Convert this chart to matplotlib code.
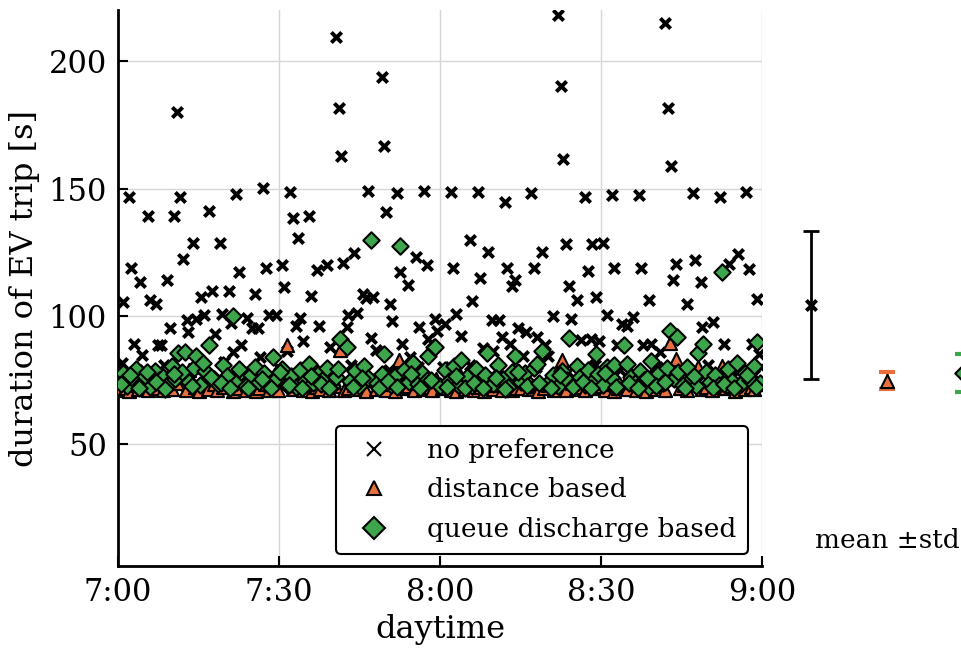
import numpy as np
import matplotlib.pyplot as plt
from matplotlib.lines import Line2D

plt.rcParams['font.family'] = 'DejaVu Serif'

# ---------------- data (minutes after 7:00, trip duration in s) ----------------
# no preference
none_t = [10.9, 40.6, 49.1, 41.1, 49.6, 41.6, 2.0, 5.5, 10.5, 11.6,
          17.0, 22.0, 27.0, 32.1, 32.6, 35.6, 46.5, 52.0, 49.9, 57.1,
          82.0, 82.6, 83.0, 102.0, 102.5, 103.0, 62.0, 67.0, 72.1, 77.0,
          87.0, 92.0, 97.0, 107.1, 112.1, 117.0, 14.0, 19.0, 2.5, 12.1,
          4.1, 9.1, 6.0, 7.1, 1.0, 15.5, 17.5, 20.6, 22.5, 27.5,
          30.5, 31.0, 33.6, 25.5, 36.0, 37.0, 39.0, 42.0, 44.0, 52.5,
          54.1, 55.5, 57.5, 45.7, 47.6, 46.3, 50.6, 12.8, 14.5, 16.1,
          19.4, 21.1, 24.0, 24.9, 26.0, 28.1, 29.4, 33.1, 34.0, 37.5,
          42.6, 42.8, 44.5, 51.1, 56.1, 59.1, 9.6, 13.0, 18.1, 3.0,
          4.5, 7.5, 8.1, 23.0, 21.5, 34.5, 39.5, 47.1, 48.1, 53.0,
          57.8, 31.4, 0.8, 26.5, 54.4, 65.6, 69.0, 62.5, 67.5, 72.5,
          74.0, 73.5, 77.5, 79.1, 83.5, 88.4, 90.4, 87.5, 84.0, 85.5,
          89.0, 92.5, 97.5, 99.0, 103.5, 104.0, 107.5, 108.6, 106.0, 113.9,
          115.6, 117.6, 119.0, 66.0, 60.9, 63.0, 69.6, 71.0, 81.0, 84.5,
          91.1, 94.0, 94.8, 96.0, 108.9, 110.9, 64.0, 59.4, 74.6, 76.1,
          71.5, 73.0, 78.0, 79.6, 86.2, 88.1, 89.7, 92.9, 97.9, 99.4,
          101.0, 113.0, 118.1, 119.5, 68.1, 69.9, 75.5, 80.2, 60.6, 1.5,
          3.5, 5.8, 8.5, 10.2, 12.5, 14.8, 16.5, 19.8, 22.2, 24.5,
          27.8, 29.9, 32.5, 35.2, 37.9, 40.2, 43.5, 45.2, 48.9, 50.5,
          53.5, 55.9, 58.5, 61.5, 63.9, 65.5, 67.9, 70.5, 72.9, 75.9,
          77.9, 80.9, 83.9, 86.5, 88.9, 90.9, 93.5, 95.9, 98.5, 100.5,
          102.5, 105.2, 107.9, 109.9, 111.5, 114.5, 116.5, 118.5, 119.8]
none_d = [180.0, 209.4, 193.8, 181.6, 166.7, 162.6, 146.7, 139.2, 139.2, 146.8,
          141.2, 147.7, 150.3, 148.8, 138.6, 139.2, 149.0, 148.1, 140.8, 149.0,
          217.9, 190.1, 161.4, 214.8, 181.6, 158.8, 148.6, 148.6, 144.7, 148.1,
          146.8, 147.6, 147.3, 148.1, 146.8, 148.8, 128.8, 128.8, 118.7, 122.3,
          113.5, 114.2, 106.5, 104.9, 105.7, 107.5, 109.9, 109.9, 117.4, 118.7,
          120.1, 111.4, 130.7, 108.8, 107.8, 118.0, 120.1, 121.0, 124.9, 117.1,
          112.2, 123.2, 120.1, 108.8, 107.5, 107.0, 104.7, 98.4, 98.8, 100.4,
          100.7, 97.1, 99.2, 95.3, 95.3, 100.4, 100.4, 96.2, 99.2, 96.2,
          95.8, 100.5, 101.4, 97.9, 95.8, 98.8, 95.3, 93.6, 92.9, 89.0,
          84.8, 88.6, 88.6, 88.6, 85.8, 90.3, 88.0, 91.3, 86.7, 89.0,
          91.2, 86.4, 81.8, 83.8, 83.8, 129.8, 125.0, 118.7, 115.1, 119.0,
          114.0, 111.8, 118.7, 125.3, 128.4, 128.1, 128.5, 117.7, 111.8, 106.2,
          107.5, 118.7, 118.7, 106.2, 114.0, 120.6, 121.9, 113.5, 104.9, 120.3,
          124.2, 118.4, 106.6, 106.0, 96.8, 100.8, 98.5, 98.5, 100.0, 98.8,
          100.4, 96.8, 96.2, 99.6, 95.6, 97.7, 92.3, 94.2, 95.3, 93.6,
          91.7, 89.2, 91.7, 88.6, 90.7, 91.0, 90.3, 88.7, 88.7, 89.0,
          85.8, 89.0, 89.0, 85.1, 87.5, 86.4, 84.4, 84.2, 80.1, 76.0,
          79.0, 74.0, 81.0, 77.0, 73.0, 79.0, 75.0, 82.0, 76.0, 78.0,
          74.0, 80.0, 76.0, 73.0, 79.0, 75.0, 81.0, 77.0, 74.0, 79.0,
          76.0, 80.0, 74.0, 78.0, 75.0, 81.0, 76.0, 79.0, 74.0, 77.0,
          80.0, 75.0, 78.0, 74.0, 81.0, 76.0, 79.0, 74.0, 77.0, 80.0,
          75.0, 78.0, 74.0, 81.0, 76.0, 79.0, 74.0, 77.0, 80.0]

# distance based
dist_t = [0.4, 1.3, 2.0, 3.1, 3.8, 4.9, 5.5, 6.6, 7.3, 8.4,
          9.0, 10.1, 10.9, 11.6, 12.7, 13.3, 14.4, 15.1, 16.2, 16.8,
          17.9, 18.5, 19.6, 20.3, 21.4, 22.0, 23.1, 23.9, 24.6, 25.7,
          26.3, 27.4, 28.1, 29.2, 29.8, 30.9, 31.5, 32.6, 33.3, 34.4,
          35.0, 36.1, 36.9, 37.6, 38.7, 39.3, 40.4, 41.4, 42.2, 42.8,
          43.9, 44.5, 45.6, 46.3, 47.4, 48.0, 49.1, 49.9, 50.6, 51.7,
          52.4, 53.4, 54.1, 55.2, 55.8, 56.9, 57.5, 58.6, 59.3, 60.4,
          61.0, 62.1, 62.9, 63.7, 64.7, 65.3, 66.4, 67.1, 68.2, 68.8,
          69.9, 70.5, 71.6, 72.3, 73.4, 74.0, 75.1, 75.9, 76.6, 77.7,
          78.3, 79.4, 80.1, 81.2, 81.8, 82.8, 83.5, 84.6, 85.3, 86.4,
          87.0, 88.1, 88.9, 89.6, 90.7, 91.3, 92.4, 93.1, 94.2, 94.8,
          95.9, 96.5, 97.6, 98.3, 99.4, 100.0, 101.1, 101.9, 102.9, 104.0,
          104.7, 105.4, 106.1, 107.2, 108.0, 108.9, 109.5, 110.6, 111.4, 112.5,
          113.2, 114.3, 115.0, 116.1, 116.8, 117.9, 118.6, 119.6]
dist_d = [71.2, 72.0, 70.8, 73.1, 71.5, 72.4, 71.0, 74.2, 71.8, 70.9,
          72.6, 71.3, 73.8, 76.5, 71.1, 78.9, 72.2, 70.7, 80.2, 71.6,
          73.5, 71.0, 72.3, 75.8, 70.8, 71.9, 74.6, 71.2, 72.8, 70.6,
          71.7, 73.2, 71.1, 72.5, 70.9, 75.1, 88.7, 71.4, 72.9, 71.0,
          73.6, 70.8, 72.1, 71.5, 74.0, 71.2, 72.7, 86.7, 70.9, 71.8,
          73.0, 71.3, 72.4, 70.7, 74.8, 71.6, 72.0, 71.1, 73.3, 70.8,
          82.7, 71.9, 72.6, 71.0, 73.9, 71.4, 72.2, 70.9, 75.5, 71.7,
          72.8, 71.2, 70.8, 77.0, 71.6, 73.4, 71.0, 72.3, 70.7, 74.1,
          71.5, 72.9, 71.1, 73.7, 70.9, 72.0, 71.8, 75.2, 71.3, 72.5,
          70.8, 71.9, 73.1, 71.2, 72.4, 82.7, 71.0, 73.8, 71.5, 72.1,
          70.9, 74.5, 71.7, 72.6, 71.1, 73.2, 70.8, 71.9, 72.8, 71.3,
          74.0, 71.0, 72.2, 70.7, 73.5, 71.6, 72.4, 71.2, 89.6, 83.1,
          71.8, 72.9, 70.9, 73.6, 79.9, 71.4, 72.3, 71.0, 74.2, 80.5,
          71.7, 72.5, 70.8, 73.0, 71.3, 72.1, 71.6, 73.4]

# queue discharge based
queue_t = [0.2, 0.9, 1.7, 2.6, 3.4, 4.2, 5.1, 5.9, 6.8, 7.6,
           8.3, 9.2, 10.0, 10.7, 11.2, 12.0, 12.5, 13.3, 14.1, 14.5,
           15.3, 16.2, 17.0, 17.9, 18.7, 19.5, 20.4, 21.5, 22.2, 23.0,
           23.8, 24.7, 25.5, 26.3, 27.2, 28.0, 28.9, 29.7, 30.5, 31.4,
           32.2, 33.1, 33.9, 34.8, 35.6, 36.4, 37.3, 38.1, 39.0, 39.8,
           40.6, 41.4, 42.6, 43.3, 44.1, 45.0, 45.8, 46.6, 47.1, 48.3,
           49.2, 49.6, 50.8, 51.7, 52.5, 53.3, 54.2, 55.0, 55.9, 56.7,
           57.5, 57.8, 58.8, 59.1, 60.0, 60.9, 61.7, 62.6, 63.4, 64.0,
           65.1, 65.9, 66.7, 67.6, 68.4, 68.8, 69.8, 70.9, 71.8, 72.6,
           73.4, 74.0, 75.1, 75.9, 76.8, 77.6, 78.0, 79.1, 80.2, 81.0,
           81.9, 82.7, 83.6, 84.1, 85.2, 85.5, 86.1, 87.0, 87.6, 88.6,
           89.0, 89.5, 90.3, 91.1, 92.0, 92.5, 93.4, 94.2, 94.8, 95.6,
           96.4, 97.3, 98.1, 99.0, 99.4, 100.6, 101.5, 102.3, 102.9, 103.6,
           104.1, 104.4, 105.3, 106.1, 106.9, 107.7, 108.1, 109.1, 109.5, 110.3,
           111.2, 112.0, 112.5, 113.6, 114.4, 115.3, 116.1, 116.9, 117.8, 118.6,
           119.0, 119.7,
           0.6, 2.2, 3.9, 5.4, 7.1, 8.8, 10.4, 13.7, 15.8, 17.4,
           19.1, 20.9, 22.6, 24.3, 26.8, 28.5, 30.1, 31.8, 34.3, 36.0,
           37.8, 39.4, 41.0, 43.7, 45.4, 48.7, 50.3, 52.0, 54.6, 56.2,
           58.3, 61.3, 63.0, 64.6, 66.3, 68.0, 70.4, 72.2, 74.6, 76.3,
           78.5, 80.6, 82.3, 84.7, 86.6, 88.2, 90.8, 92.8, 95.2, 96.9,
           98.6, 100.2, 101.9, 105.7, 107.3, 110.8, 113.0, 114.8, 117.3, 118.9]
queue_d = [74.5, 77.8, 72.6, 75.9, 79.3, 73.4, 76.7, 72.1, 78.5, 74.8,
           76.2, 73.0, 80.4, 75.3, 85.7, 77.9, 86.0, 74.1, 79.8, 84.2,
           72.8, 78.6, 88.6, 75.4, 73.2, 80.9, 76.5, 100.0, 74.3, 78.1,
           72.5, 76.9, 80.1, 74.0, 77.5, 72.9, 83.8, 75.6, 79.2, 73.1,
           76.4, 72.3, 78.8, 74.7, 81.2, 73.6, 77.1, 75.0, 79.6, 72.7,
           76.0, 90.9, 87.7, 74.4, 78.3, 72.6, 80.5, 75.8, 129.7, 73.9,
           77.4, 85.1, 72.8, 76.6, 127.5, 79.0, 74.2, 81.6, 73.5, 77.8,
           75.1, 84.2, 87.7, 87.7, 72.4, 78.9, 74.6, 80.3, 73.0, 82.9,
           76.3, 72.7, 79.4, 74.9, 77.0, 85.7, 73.3, 80.7, 75.5, 72.2,
           78.0, 84.4, 74.1, 77.7, 72.9, 79.5, 81.2, 86.4, 73.7, 76.8,
           72.5, 78.6, 75.0, 91.5, 73.4, 80.5, 76.1, 72.8, 78.8, 74.5,
           85.1, 77.3, 73.1, 79.9, 75.6, 80.9, 72.6, 88.7, 81.4, 76.2,
           73.8, 78.4, 74.9, 72.3, 82.5, 77.1, 73.6, 79.7, 94.1, 75.3,
           91.7, 77.9, 73.0, 80.2, 75.8, 72.5, 85.7, 89.0, 78.1, 74.3,
           76.9, 72.8, 117.1, 79.3, 74.7, 81.8, 73.2, 77.6, 75.0, 80.6,
           89.9, 73.9,
           73.5, 76.8, 71.9, 78.2, 74.0, 71.6, 77.3, 72.4, 81.5, 76.0,
           73.8, 71.8, 79.4, 72.0, 75.2, 71.7, 77.9, 73.0, 71.9, 76.5,
           73.3, 71.8, 79.1, 72.2, 75.6, 71.9, 74.4, 72.1, 77.2, 71.7,
           74.9, 72.3, 76.4, 71.8, 73.9, 72.0, 75.7, 71.6, 78.1, 72.4,
           73.6, 71.9, 76.9, 72.2, 74.3, 71.7, 77.8, 72.1, 73.7, 71.8,
           75.9, 72.5, 74.0, 71.9, 76.6, 72.0, 73.4, 71.7, 77.0, 72.3]

# mean +- std per strategy
strategies = ['no preference', 'distance based', 'queue discharge based']
mean_vals = [104.3, 74.7, 77.8]
std_vals = [29.1, 3.2, 7.4]

xtick_labels = ['7:00', '7:30', '8:00', '8:30', '9:00']

orange = '#e8703f'
green = '#3da54b'
colors = ['black', orange, green]

fig = plt.figure(figsize=(9.61, 6.48), dpi=100)
ax = fig.add_axes([0.1228, 0.1265, 0.6701, 0.858])

ax.scatter(none_t, none_d, marker='x', s=55, c='black', linewidths=2.8, zorder=3)
ax.scatter(dist_t, dist_d, marker='^', s=90, c=orange, edgecolors='black', linewidths=1.5, zorder=4)
ax.scatter(queue_t, queue_d, marker='D', s=70, c=green, edgecolors='black', linewidths=1.5, zorder=5)

ax.set_xlim(0, 120)
ax.set_ylim(2, 220)
ax.set_xticks([0, 30, 60, 90, 120])
ax.set_xticklabels(xtick_labels)
ax.set_yticks([50, 100, 150, 200])
ax.grid(color='#d6d6d6', linewidth=1)
ax.set_axisbelow(True)
for s in ['top', 'right']:
    ax.spines[s].set_visible(False)
for s in ['left', 'bottom']:
    ax.spines[s].set_linewidth(2)
ax.tick_params(direction='in', length=7, width=1.5, labelsize=22, pad=8)
ax.set_xlabel('daytime', fontsize=23, labelpad=4)
ax.set_ylabel('duration of EV trip [s]', fontsize=23, labelpad=6)

handles = [
    Line2D([], [], ls='none', marker='x', color='black', markersize=10, markeredgewidth=1.5),
    Line2D([], [], ls='none', marker='^', color=orange, markeredgecolor='black', markersize=10, markeredgewidth=1.5),
    Line2D([], [], ls='none', marker='D', color=green, markeredgecolor='black', markersize=11, markeredgewidth=1.5),
]
leg = ax.legend(handles, strategies, loc='lower right', bbox_to_anchor=(0.978, 0.022),
                borderaxespad=0, fontsize=19, fancybox=True, framealpha=1, edgecolor='black',
                handletextpad=1.0, borderpad=0.45, labelspacing=0.55)
leg.get_frame().set_linewidth(1.5)

# mean +- std panel on the right
ax2 = fig.add_axes([0.7929, 0.1265, 0.2071, 0.858], sharey=ax)
ax2.axis('off')
ax2.set_xlim(-0.645, 1.974)
for i in range(3):
    ax2.errorbar(i, mean_vals[i], yerr=std_vals[i], color=colors[i], ecolor=colors[i],
                 capsize=6, capthick=3 if i else 2, elinewidth=2, ls='none')
ax2.scatter([0], [mean_vals[0]], marker='x', s=55, c='black', linewidths=2.8, zorder=3)
ax2.scatter([1], [mean_vals[1]], marker='^', s=90, c=orange, edgecolors='black', linewidths=1.5, zorder=3)
ax2.scatter([2], [mean_vals[2]], marker='D', s=70, c=green, edgecolors='black', linewidths=1.5, zorder=3)
ax2.text(1, 12, 'mean \u00b1std', ha='center', va='center', fontsize=19)

plt.savefig('out.png', dpi=100)
